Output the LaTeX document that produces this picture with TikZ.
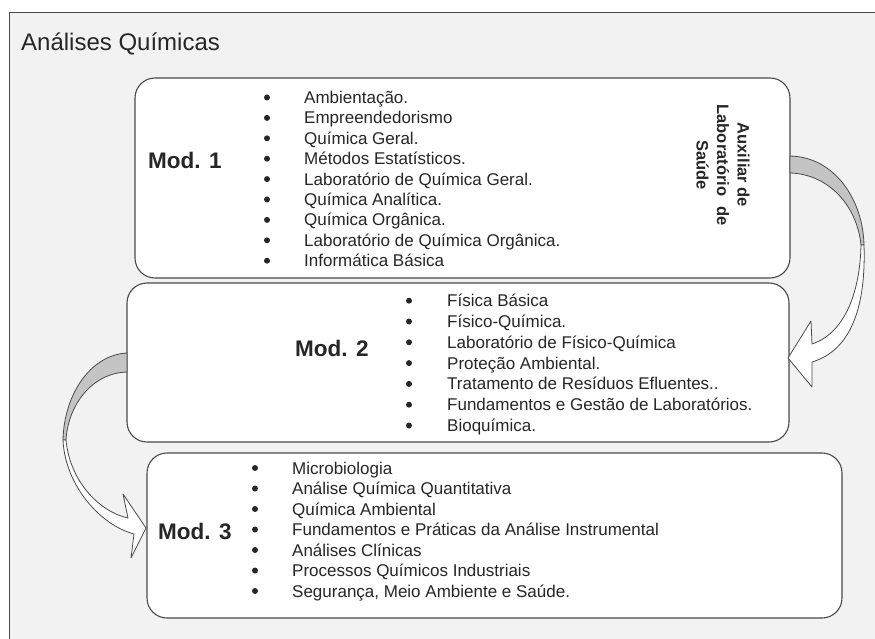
\documentclass[tikz,border=0pt]{standalone}
\usepackage{fontspec}
\setmainfont{Liberation Sans}
\definecolor{bg}{HTML}{F2F2F2}
\definecolor{edge}{HTML}{4A4A4A}
\definecolor{ink}{HTML}{262626}
\definecolor{shade}{HTML}{C4C4C4}
\begin{document}
\begin{tikzpicture}[x=1pt,y=-1pt,
  box/.style={draw=edge, line width=1.1pt, fill=white, rounded corners=20pt, inner sep=0pt},
  item/.style={anchor=base west, inner sep=0pt, text=ink, font=\fontsize{17}{20}\selectfont},
  modlabel/.style={anchor=base west, inner sep=0pt, text=ink, font=\bfseries\fontsize{22.5}{27}\selectfont},
  arrowline/.style={draw=edge, line width=0.8pt, line join=round},
  dot/.style={fill=ink},
]
\useasboundingbox (0,0) rectangle (875,639);
\clip (0,0) rectangle (875,639);
\fill[white] (0,0) rectangle (875,639);
\draw[fill=bg, draw=edge, line width=1pt] (9,13) rectangle (890,660);
\node[anchor=base west, inner sep=0pt, text=ink, font=\fontsize{24}{28}\selectfont] (title) at (21,51) {Análises Químicas};

% boxes
\node[box, minimum width=655pt, minimum height=200pt] (b1) at (462.5,178) {};
\node[box, minimum width=662pt, minimum height=159pt] (b2) at (458,362.5) {};
\node[box, minimum width=695pt, minimum height=165pt] (b3) at (494.5,535.5) {};

% labels
\node[modlabel] (mod1) at (148,169) {Mod. 1};
\node[modlabel] (mod2) at (295,356) {Mod. 2};
\node[modlabel] (mod3) at (158,539) {Mod. 3};

% lists
\foreach \t [count=\i from 0] in {Ambientação., Empreendedorismo, Química Geral., Métodos Estatísticos., Laboratório de Química Geral., Química Analítica., Química Orgânica., Laboratório de Química Orgânica., Informática Básica}{
  \node[item] (m1-\i) at (304,{103.5+20.4*\i}) {\t};
  \fill[dot] (267,{97.5+20.4*\i}) circle (3pt);
}
\foreach \t [count=\i from 0] in {Física Básica, Físico-Química., Laboratório de Físico-Química, Proteção Ambiental., Tratamento de Resíduos Efluentes.., Fundamentos e Gestão de Laboratórios., Bioquímica.}{
  \node[item] (m2-\i) at (447,{306.7+20.8*\i}) {\t};
  \fill[dot] (409,{300.7+20.8*\i}) circle (3pt);
}
\foreach \t [count=\i from 0] in {Microbiologia, Análise Química Quantitativa, Química Ambiental, Fundamentos e Práticas da Análise Instrumental, Análises Clínicas, Processos Químicos Industriais, {Segurança, Meio Ambiente e Saúde.}}{
  \node[item] (m3-\i) at (292,{474+20.5*\i}) {\t};
  \fill[dot] (255,{468+20.5*\i}) circle (3pt);
}

% vertical caption
\node[rotate=-90, align=center, inner sep=0pt, text=ink, font=\bfseries\fontsize{16.5}{20.5}\selectfont] (aux) at (723,165) {Auxiliar de\\Laboratório\hspace{0.6em}de\\Saúde};

% right curved arrow (Mod. 1 -> Mod. 2)
\filldraw[arrowline, fill=shade] (790,156) .. controls (835,157) and (863,200) .. (864,245) -- (861,245) .. controls (857,205) and (828,174) .. (790,173) -- cycle;
\filldraw[arrowline, fill=white] (864,245) .. controls (866,305) and (852,350) .. (812,362) -- (812,387) -- (788,358) -- (811,321) -- (812,344) .. controls (845,333) and (860,292) .. (861,245) -- cycle;

% left curved arrow (Mod. 2 -> Mod. 3)
\filldraw[arrowline, fill=shade] (127,353) .. controls (90,355) and (64,395) .. (63,440) -- (66,440) .. controls (68,405) and (92,373) .. (127,372) -- cycle;
\filldraw[arrowline, fill=white] (63,440) .. controls (65,485) and (100,525) .. (134,534) -- (131,558) -- (146,528) -- (123,494) -- (128,518) .. controls (100,512) and (70,482) .. (66,440) -- cycle;
\end{tikzpicture}
\end{document}
